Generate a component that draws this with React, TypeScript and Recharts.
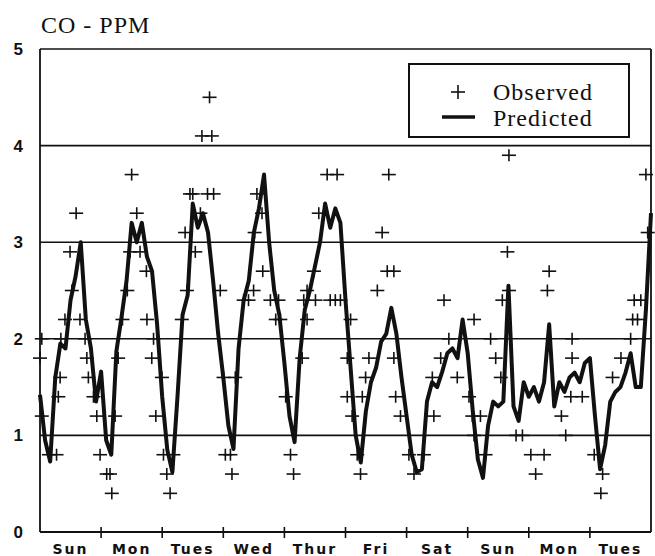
import React from 'react';
import {
    ComposedChart,
    Line,
    Scatter,
    XAxis,
    YAxis,
    CartesianGrid,
    ReferenceLine,
    Legend,
} from 'recharts';

// day names under the x axis, one per 24 hours
const DAYS = ['Sun', 'Mon', 'Tues', 'Wed', 'Thur', 'Fri', 'Sat', 'Sun', 'Mon', 'Tues'];

// predicted CO (ppm), one value every 2 hours from hour 0 to hour 240
const PREDICTED = [
    1.42, 0.95, 0.73, 1.6, 1.95, 1.9, 2.4, 2.65, 3.0, 2.2, 1.9, 1.35,
    1.66, 0.95, 0.8, 1.87, 2.22, 2.6, 3.2, 3.0, 3.2, 2.85, 2.7, 2.15,
    1.4, 0.85, 0.62, 1.4, 2.25, 2.45, 3.4, 3.15, 3.3, 3.1, 2.6, 2.05,
    1.6, 1.1, 0.86, 1.9, 2.4, 2.6, 3.1, 3.35, 3.7, 3.0, 2.5, 2.25,
    1.75, 1.2, 0.93, 1.8, 2.3, 2.5, 2.75, 3.0, 3.4, 3.15, 3.35, 3.2,
    2.4, 1.7, 1.0, 0.72, 1.25, 1.55, 1.7, 1.97, 2.05, 2.32, 2.05, 1.6,
    1.2, 0.8, 0.62, 0.65, 1.35, 1.55, 1.5, 1.66, 1.85, 1.9, 1.8, 2.2,
    1.85, 1.25, 0.75, 0.56, 1.1, 1.35, 1.3, 1.35, 2.55, 1.3, 1.15, 1.55,
    1.4, 1.5, 1.35, 1.55, 2.15, 1.3, 1.55, 1.45, 1.6, 1.65, 1.55, 1.75,
    1.8, 1.2, 0.65, 0.9, 1.35, 1.45, 1.5, 1.65, 1.85, 1.5, 1.5, 2.3, 3.3,
];
const PRED_STEP = 2;

// observed readings: hour and value
const OBS_HOURS = [
    0, 0.7, 0.7, 3.5, 6.5, 7.2, 7.9, 8.2, 9.8, 11.8, 12.5, 14.2, 15.7, 17.7, 18.4, 19, 21, 22.3, 23.6,
    26.2, 27.5, 28.2, 29.5, 30.7, 32.4, 34.3, 35.4, 36, 38, 39.3, 41.8, 42, 43.9, 44.6, 45.5, 47.9, 48.5,
    49.8, 51.1, 52.4, 55.7, 57, 57.7, 58.9, 60, 61, 63, 63.6, 65.8, 66.6, 67.5, 68.2, 70.8, 72.1,
    72.8, 74.8, 75.4, 76.7, 80, 81.9, 83.9, 84.3, 85.2, 87.2, 87.5, 90.5, 92.6, 93.7, 94.4, 96.5,
    98.4, 99.6, 103, 103.6, 104.9, 104.9, 107.6, 108.2, 109.5, 112.8, 114, 116, 116.7, 118, 120.7, 120.7,
    122, 122.6, 124.6, 125.9, 126.6, 127.9, 129.2, 132.5, 134.4, 136.4, 137, 139, 139, 139.7, 141.6, 144.9,
    146.9, 150.8, 154.1, 154.7, 157.4, 158.7, 160.6, 163.9, 168.5,
    169.8, 170.5, 170.5, 173, 175, 177, 179, 181, 181.6, 183.6, 184.2, 184.2, 187, 189.5,
    192.8, 194.7, 198, 199.3, 200, 204.8, 206.5, 208.5, 209, 209, 213,
    217.7, 220.3, 221, 224.9, 228.2, 232, 232.8, 233.4, 234.7, 236, 238, 238.7,
];
const OBS_VALUES = [
    1.8, 2.0, 1.2, 0.8, 0.8, 1.4, 1.6, 2.0, 2.2, 2.9, 2.5, 3.3, 2.2, 2.0, 1.8, 1.6, 1.4, 1.2, 0.8,
    0.6, 0.6, 0.4, 1.2, 1.8, 2.2, 2.5, 2.9, 3.7, 3.3, 2.9, 2.7, 2.2, 1.8, 2.0, 1.2, 1.6, 0.8,
    0.6, 0.4, 0.8, 2.2, 3.1, 2.5, 3.5, 3.5, 2.9, 3.3, 4.1, 3.5, 4.5, 4.1, 3.5, 2.5, 1.6,
    0.8, 0.8, 0.6, 1.6, 2.4, 2.4, 2.5, 3.1, 3.5, 3.3, 2.7, 2.4, 2.2, 2.4, 2.2, 1.4,
    0.8, 0.6, 1.8, 2.4, 2.2, 2.5, 2.7, 2.4, 3.3, 3.7, 2.4, 2.4, 3.7, 2.4, 1.8, 1.4,
    2.2, 1.2, 0.8, 0.6, 1.4, 1.6, 1.8, 2.5, 3.1, 2.7, 3.7, 2.7, 1.8, 1.4, 1.2, 0.8,
    0.6, 0.8, 1.6, 1.2, 1.8, 2.4, 2.0, 1.6, 1.4,
    1.2, 2.2, 1.0, 1.2, 0.8, 2.0, 1.8, 1.6, 2.4, 2.9, 2.5, 3.9, 1.0, 1.0,
    0.8, 0.6, 0.8, 2.5, 2.7, 1.2, 1.0, 1.4, 1.8, 2.0, 1.4,
    0.8, 0.4, 0.6, 1.6, 1.8, 2.0, 2.2, 2.4, 2.2, 2.4, 3.7, 3.1,
];

const Y_TICKS = [0, 1, 2, 3, 4, 5];
const HOURS_PER_DAY = 24;
const TOTAL_HOURS = DAYS.length * HOURS_PER_DAY;

const predData = PREDICTED.map((v, i) => ({ h: i * PRED_STEP, v }));
const obsData = OBS_HOURS.map((h, i) => ({ h, v: OBS_VALUES[i] }));

// ticks on day boundaries (marks) and day middles (names)
const xTicks: number[] = [];
for (let d = 0; d <= DAYS.length; d++) {
    xTicks.push(d * HOURS_PER_DAY);
    if (d < DAYS.length) xTicks.push(d * HOURS_PER_DAY + HOURS_PER_DAY / 2);
}

const INK = '#111';
const SERIF = '"Liberation Serif", "Times New Roman", serif';

const DayTick = (props: any) => {
    const { x, y, payload } = props;
    const value = payload.value as number;
    if (value % HOURS_PER_DAY === 0) {
        if (value === 0 || value === TOTAL_HOURS) return null;
        return <line x1={x} x2={x} y1={y - 5} y2={y + 6} stroke={INK} strokeWidth={1.6} />;
    }
    const label = DAYS[Math.floor(value / HOURS_PER_DAY)];
    return (
        <text
            x={x}
            y={y + 22}
            textAnchor="middle"
            fill={INK}
            fontFamily='"DejaVu Sans", sans-serif'
            fontWeight={700}
            fontSize={14}
            letterSpacing={2}
        >
            {label}
        </text>
    );
};

const PlusShape = (props: any) => {
    const { cx, cy } = props;
    return (
        <g stroke={INK} strokeWidth={1.6}>
            <line x1={cx - 7} x2={cx + 7} y1={cy} y2={cy} />
            <line x1={cx} x2={cx} y1={cy - 6} y2={cy + 6} />
        </g>
    );
};

const LegendBox = () => (
    <svg width={222} height={75}>
        <rect x={1} y={1} width={220} height={73} fill="#fff" stroke={INK} strokeWidth={2} />
        <g stroke={INK} strokeWidth={1.6}>
            <line x1={43} x2={57} y1={29} y2={29} />
            <line x1={50} x2={50} y1={22} y2={36} />
        </g>
        <line x1={34} x2={67} y1={54} y2={54} stroke={INK} strokeWidth={3.5} />
        <text x={85} y={37} fontFamily={SERIF} fontSize={24} letterSpacing={1} fill={INK}>
            Observed
        </text>
        <text x={85} y={63} fontFamily={SERIF} fontSize={24} letterSpacing={1} fill={INK}>
            Predicted
        </text>
    </svg>
);

const App: React.FC = () => {
    return (
        <div style={{ position: 'absolute', left: 0, top: 0, width: 655, height: 556, background: '#fff' }}>
            <ComposedChart width={655} height={556} margin={{ top: 49, right: 4, bottom: 0, left: 0 }}>
                <CartesianGrid vertical={false} stroke={INK} strokeWidth={1.6} />
                <XAxis
                    type="number"
                    dataKey="h"
                    domain={[0, TOTAL_HOURS]}
                    ticks={xTicks}
                    interval={0}
                    height={24}
                    tickSize={0}
                    tickMargin={0}
                    tickLine={false}
                    axisLine={{ stroke: INK, strokeWidth: 1.8 }}
                    tick={<DayTick />}
                />
                <YAxis
                    type="number"
                    domain={[0, 5]}
                    ticks={Y_TICKS}
                    width={40}
                    tickSize={0}
                    tickMargin={17}
                    tickLine={false}
                    axisLine={{ stroke: INK, strokeWidth: 1.8 }}
                    tick={{ fill: INK, fontSize: 17, fontWeight: 700, fontFamily: '"Liberation Sans", Arial, sans-serif' }}
                />
                <ReferenceLine x={TOTAL_HOURS} stroke={INK} strokeWidth={1.8} />
                <Line
                    data={predData}
                    dataKey="v"
                    type="linear"
                    stroke={INK}
                    strokeWidth={4}
                    strokeLinejoin="round"
                    dot={false}
                    activeDot={false}
                    isAnimationActive={false}
                    name="Predicted"
                />
                <Scatter
                    data={obsData}
                    dataKey="v"
                    shape={<PlusShape />}
                    isAnimationActive={false}
                    name="Observed"
                />
                <Legend
                    layout="vertical"
                    align="center"
                    verticalAlign="middle"
                    wrapperStyle={{ top: 63, left: 408, width: 222, height: 75 }}
                    content={<LegendBox />}
                />
                <text x={41} y={33} fontFamily={SERIF} fontSize={24} letterSpacing={1} fill={INK}>
                    CO - PPM
                </text>
            </ComposedChart>
        </div>
    );
};

export default App;
